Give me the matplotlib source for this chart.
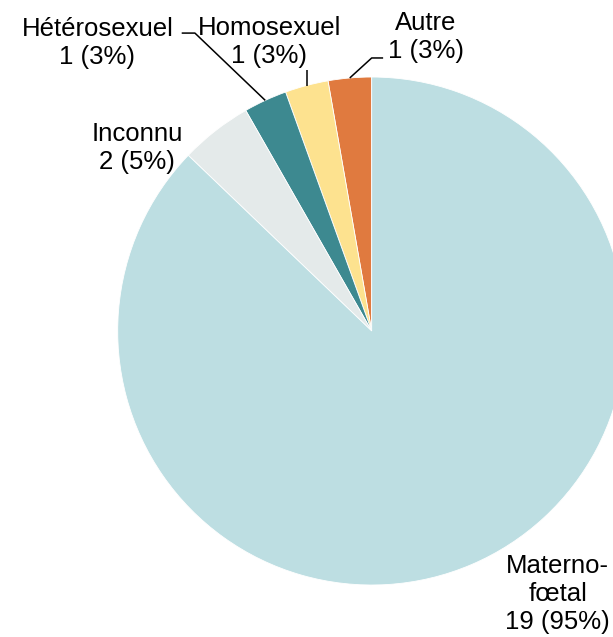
import matplotlib
matplotlib.use('Agg')
import matplotlib.pyplot as plt
import numpy as np

# mode de transmission
categories = ['Autre', 'Homosexuel', 'Hétérosexuel', 'Inconnu', 'Materno-\nfœtal']
counts = [1, 1, 1, 2, 19]
percents = [3, 3, 3, 5, 95]
colors = ['#E07A3F', '#FDE28F', '#3D8990', '#E4EAEA', '#BDDEE2']

plt.rcParams['font.family'] = ['Liberation Sans', 'DejaVu Sans']

fig = plt.figure(figsize=(6.13, 6.37), dpi=100)
ax = fig.add_axes([0.192, 0.0816, 0.8287, 0.7975])

wedges, _ = ax.pie(percents, colors=colors, startangle=90, counterclock=True,
                   wedgeprops=dict(edgecolor='white', linewidth=0.6))
ax.set_xlim(-1, 1)
ax.set_ylim(-1, 1)
ax.set_aspect('equal')

# label positions (pie radius = 1)
label_pos = [(0.214, 1.157), (-0.404, 1.137), (-1.080, 1.135), (-0.924, 0.720), (0.733, -1.036)]
for name, n, p, (x, y) in zip(categories, counts, percents, label_pos):
    ax.text(x, y, f"{name}\n{n} ({p}%)", ha='center', va='center', fontsize=18.5,
            linespacing=1.2, clip_on=False)


def mid_point(w):
    a = np.deg2rad((w.theta1 + w.theta2) / 2)
    return np.cos(a), np.sin(a)


line_kw = dict(color='black', lw=1.1, clip_on=False, solid_capstyle='butt')

# Autre
mx, my = mid_point(wedges[0])
ax.plot([mx, 0.0, 0.045], [my, 1.075, 1.075], **line_kw)
# Homosexuel
mx, my = mid_point(wedges[1])
ax.plot([mx, mx], [my, 1.028], **line_kw)
# Hétérosexuel
mx, my = mid_point(wedges[2])
ax.plot([mx, -0.696, -0.748], [my, 1.173, 1.173], **line_kw)

fig.savefig('out.png', dpi=100)
